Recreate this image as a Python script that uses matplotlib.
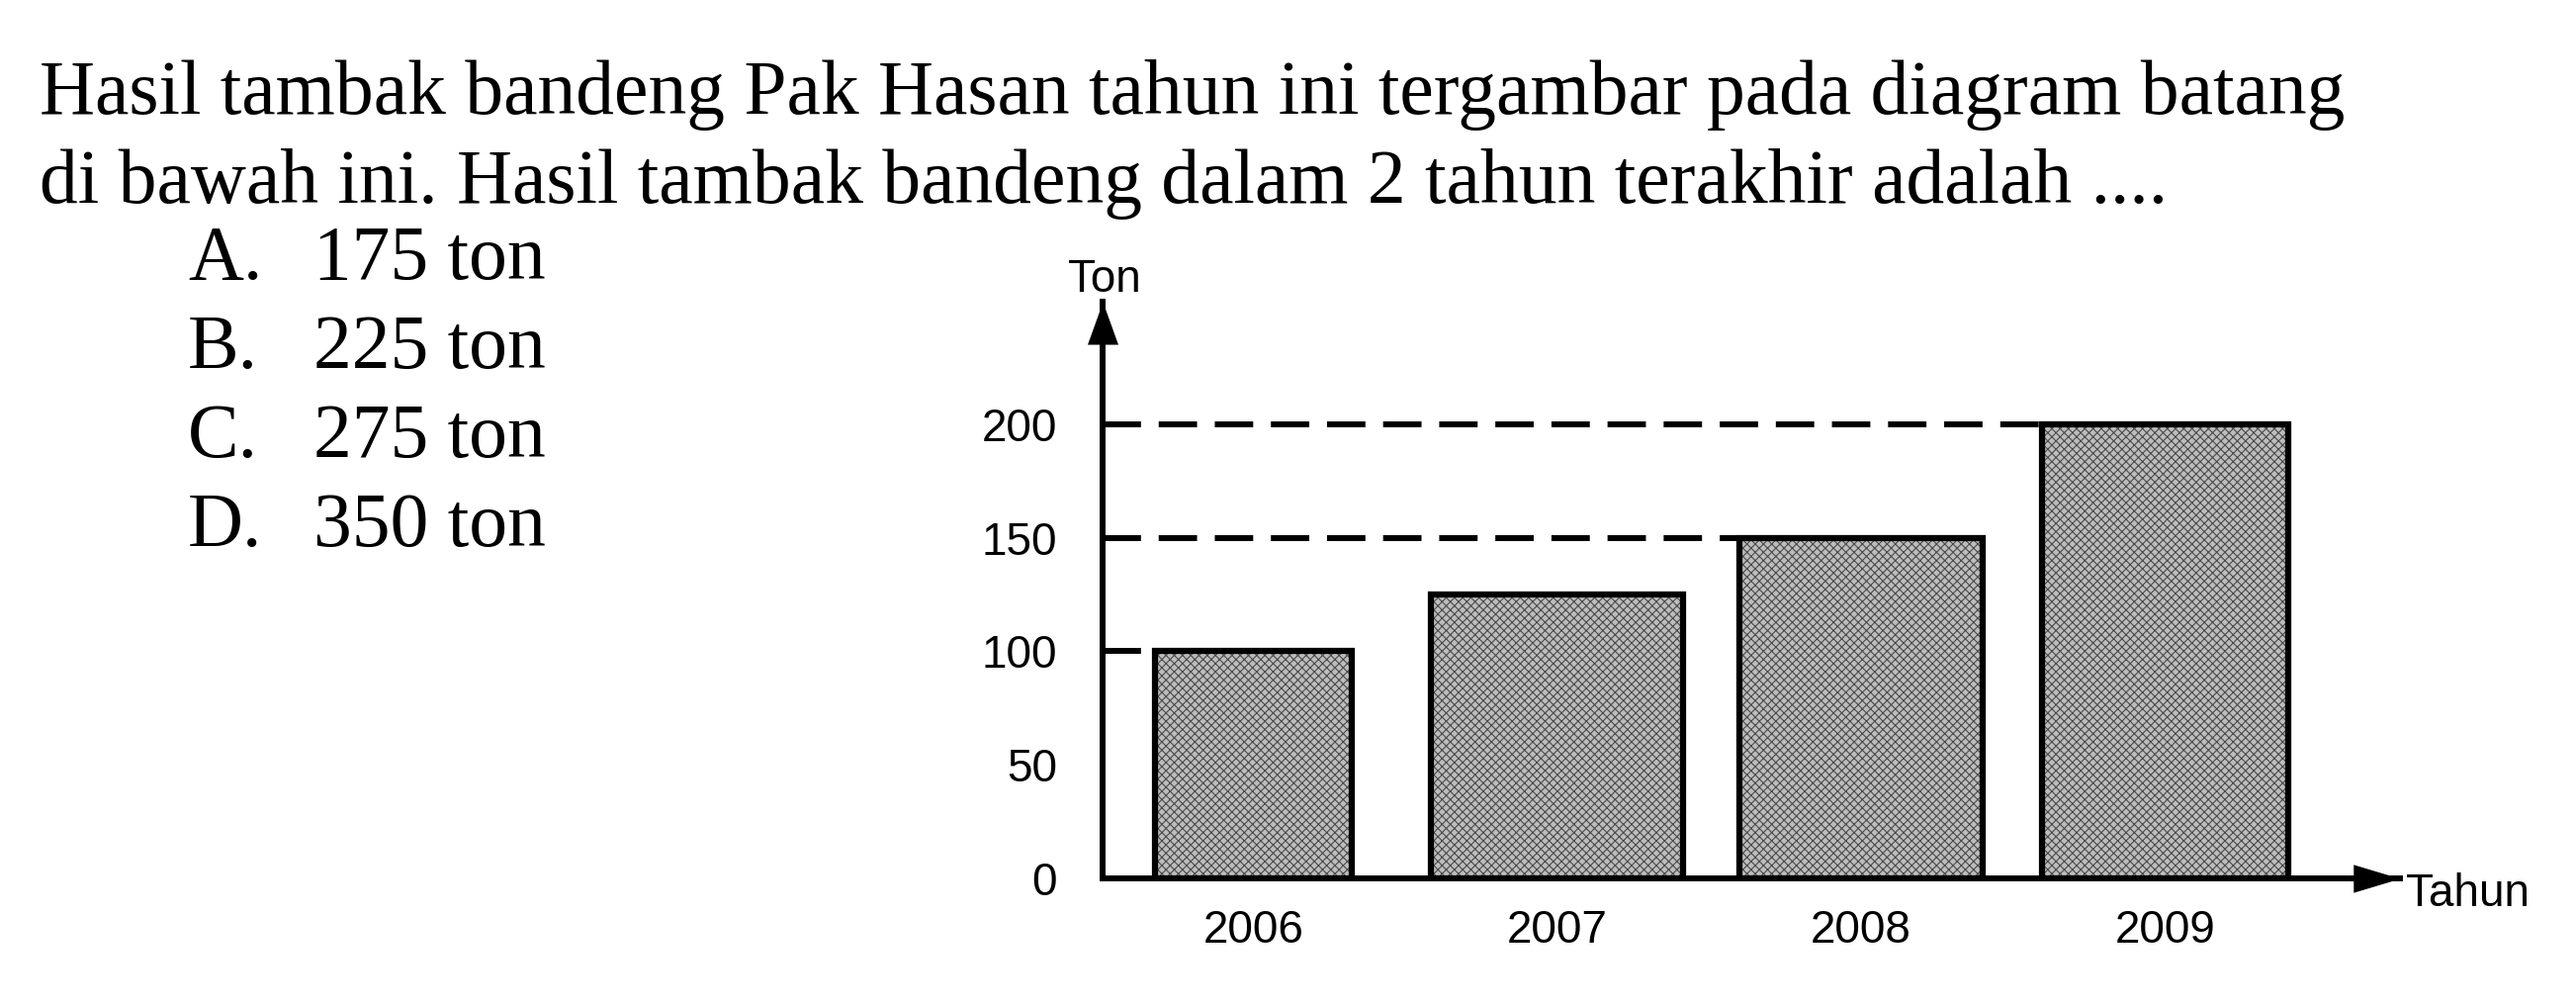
import matplotlib
matplotlib.use('Agg')
import matplotlib.pyplot as plt

# ---------------- data ----------------
years = ['2006', '2007', '2008', '2009']
tons = [100, 125, 150, 200]
yticks = [0, 50, 100, 150, 200]
guide_years = ['2006', '2008', '2009']

question_lines = [
    "Hasil tambak bandeng Pak Hasan tahun ini tergambar pada diagram batang",
    "di bawah ini. Hasil tambak bandeng dalam 2 tahun terakhir adalah ....",
]
option_letters = ['A.', 'B.', 'C.', 'D.']
option_texts = ['175 ton', '225 ton', '275 ton', '350 ton']
y_label = 'Ton'
x_label = 'Tahun'

# ---------------- style / layout ----------------
W, H, DPI = 2605, 1016, 100
serif = ['Liberation Serif', 'DejaVu Serif']
sans = ['Liberation Sans', 'DejaVu Sans']
bar_widths = [0.65, 0.83, 0.80, 0.81]
plt.rcParams['hatch.linewidth'] = 0.8

fig = plt.figure(figsize=(W / DPI, H / DPI), dpi=DPI)
fig.patch.set_facecolor('white')


def fx(px):
    return px / W


def fy(py):
    return 1 - py / H


# question text, size fitted to the reference line width
t1 = fig.text(fx(40), fy(115), question_lines[0], family=serif, fontsize=50,
              ha='left', va='baseline', color='black')
fig.canvas.draw()
renderer = fig.canvas.get_renderer()
w = t1.get_window_extent(renderer).width
fs = 50 * 2335 / w
t1.set_fontsize(fs)
fig.text(fx(40), fy(205), question_lines[1], family=serif, fontsize=fs,
         ha='left', va='baseline', color='black')

opt_baselines = [282, 372, 462, 552]
for letter, txt, yb in zip(option_letters, option_texts, opt_baselines):
    fig.text(fx(190), fy(yb), letter, family=serif, fontsize=fs,
             ha='left', va='baseline')
    fig.text(fx(317), fy(yb), txt, family=serif, fontsize=fs,
             ha='left', va='baseline')

# ---------------- bar chart ----------------
ax = fig.add_axes([fx(1115), fy(888), (2427 - 1115) / W, (888 - 305) / H])
ax.set_facecolor('none')
x = list(range(len(years)))
ax.set_xlim(-0.496, 3.773)
ax.set_ylim(0, 254)

ax.bar(x, tons, width=bar_widths, color='#bdbdbd', edgecolor='#4a4a4a',
       hatch='xxxx', linewidth=0, zorder=2)
ax.bar(x, tons, width=bar_widths, fill=False, edgecolor='black',
       linewidth=4.5, joinstyle='miter', zorder=3)

xmin = ax.get_xlim()[0]
for gy in guide_years:
    i = years.index(gy)
    left = x[i] - bar_widths[i] / 2
    ax.plot([xmin, left], [tons[i], tons[i]], color='black', lw=4.3,
            ls=(0, (6.5, 3)), dash_capstyle='butt', zorder=1)

ax.set_yticks(yticks)
ax.set_yticklabels([str(v) for v in yticks])
ax.set_xticks(x)
ax.set_xticklabels(years)
ax.tick_params(axis='both', length=0, labelsize=33)
ax.tick_params(axis='y', pad=33)
ax.tick_params(axis='x', pad=22)
for lab in ax.get_xticklabels() + ax.get_yticklabels():
    lab.set_family(sans)

for s in ['top', 'right']:
    ax.spines[s].set_visible(False)
for s in ['left', 'bottom']:
    ax.spines[s].set_linewidth(4.3)
    ax.spines[s].set_capstyle('projecting')
    ax.spines[s].set_zorder(4)

# arrow heads
ax.plot(0, 1, marker=[(0, 0), (-0.36, -1), (0.36, -1)], ms=62, color='black',
        mew=0, transform=ax.transAxes, clip_on=False, zorder=5)
ax.plot(1, 0, marker=[(0, 0), (-1, 0.3), (-1, -0.3)], ms=68, color='black',
        mew=0, transform=ax.transAxes, clip_on=False, zorder=5)

ax.annotate(y_label, xy=(0, 1), xycoords='axes fraction', xytext=(1, 7),
            textcoords='offset points', ha='center', va='baseline',
            fontsize=33, family=sans)
ax.annotate(x_label, xy=(1, 0), xycoords='axes fraction', xytext=(4, -20),
            textcoords='offset points', ha='left', va='baseline',
            fontsize=33, family=sans)

fig.savefig('out.png', dpi=DPI, facecolor='white')
